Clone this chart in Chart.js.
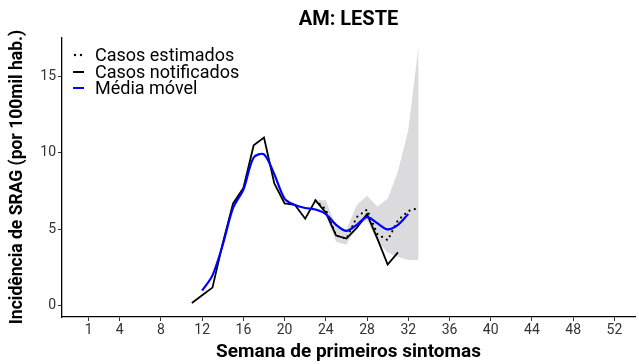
<!DOCTYPE html>
<html><head><meta charset="utf-8">
<script src="https://cdn.jsdelivr.net/npm/chart.js@4.4.1/dist/chart.umd.min.js"></script>
<style>html,body{margin:0;padding:0;background:#fff}#wrap{width:639px;height:364px}</style>
</head><body><div id="wrap"><canvas id="c" width="639" height="364"></canvas></div>
<script>
// ---- data ----
const chartTitle = "AM: LESTE";
const xTitle = "Semana de primeiros sintomas";
const yTitle = "Incidência de SRAG (por 100mil hab.)";
const xTicks = [1, 4, 8, 12, 16, 20, 24, 28, 32, 36, 40, 44, 48, 52];
const yTicks = [0, 5, 10, 15];

const weeksNotified = [11,12,13,14,15,16,17,18,19,20,21,22,23,24,25,26,27,28,29,30,31];
const notified      = [0.2,0.7,1.2,4.1,6.7,7.7,10.5,11.0,8.0,6.7,6.6,5.7,6.9,6.1,4.6,4.4,5.1,6.0,4.4,2.7,3.5];

const weeksMA   = [12,13,14,15,16,17,18,19,20,21,22,23,24,25,26,27,28,29,30,31,32];
const movingAvg = [1.0,2.0,4.0,6.4,7.6,9.7,9.9,8.6,7.0,6.6,6.4,6.3,6.0,5.3,4.9,5.3,5.8,5.4,5.0,5.3,6.0];

const weeksEst  = [23,24,25,26,27,28,29,30,31,32,33];
const estimated = [6.9,6.3,4.6,4.4,5.8,6.3,4.7,4.3,5.6,6.2,6.4];
const bandLower = [6.9,5.9,4.2,4.0,5.2,5.6,4.2,3.5,3.2,3.0,3.0];
const bandUpper = [6.9,6.9,5.2,5.0,6.6,7.2,6.5,7.0,8.8,11.5,17.0];

const labels = ["Casos estimados", "Casos notificados", "Média móvel"];

const pts = (xs, ys) => xs.map((x, i) => ({x: x, y: ys[i]}));
const FONT = "Roboto, 'Liberation Sans', sans-serif";

const decor = {
  id: 'decor',
  afterDraw(chart) {
    const ctx = chart.ctx, ca = chart.chartArea;
    ctx.save();
    ctx.fillStyle = '#000';
    ctx.textAlign = 'center'; ctx.textBaseline = 'middle';
    ctx.font = "bold 20px " + FONT;
    ctx.fillText(chartTitle, (ca.left + ca.right) / 2, 20);
    ctx.font = "bold 19px " + FONT;
    ctx.fillText(xTitle, (ca.left + ca.right) / 2, 352);
    ctx.save();
    ctx.translate(18, 177);
    ctx.rotate(-Math.PI / 2);
    ctx.font = "bold 17.5px " + FONT;
    ctx.fillText(yTitle, 0, 0);
    ctx.restore();
    // legend
    ctx.font = "18px " + FONT;
    ctx.textAlign = 'left';
    const ys = [55, 72, 88];
    ctx.fillStyle = '#000';
    [75, 81].forEach(x => { ctx.beginPath(); ctx.arc(x, ys[0], 1.2, 0, Math.PI * 2); ctx.fill(); });
    ctx.lineWidth = 2;
    ctx.strokeStyle = '#000';
    ctx.beginPath(); ctx.moveTo(73, ys[1]); ctx.lineTo(84, ys[1]); ctx.stroke();
    ctx.strokeStyle = '#0000ff';
    ctx.beginPath(); ctx.moveTo(73, ys[2]); ctx.lineTo(84, ys[2]); ctx.stroke();
    ctx.fillStyle = '#000';
    labels.forEach((t, i) => ctx.fillText(t, 95, ys[i] + 1));
    ctx.restore();
  }
};

new Chart(document.getElementById('c'), {
  type: 'line',
  data: {
    datasets: [
      { label: 'lower', data: pts(weeksEst, bandLower), borderWidth: 0, pointRadius: 0, fill: false, order: 5, borderColor: 'rgba(0,0,0,0)' },
      { label: 'upper', data: pts(weeksEst, bandUpper), borderWidth: 0, pointRadius: 0, fill: '-1', order: 4, borderColor: 'rgba(0,0,0,0)', backgroundColor: 'rgba(165,165,170,0.4)' },
      { label: labels[0], data: pts(weeksEst, estimated), borderColor: '#000', borderWidth: 2.2, borderDash: [0.01, 5.5], borderCapStyle: 'round', pointRadius: 0, fill: false, order: 2 },
      { label: labels[1], data: pts(weeksNotified, notified), borderColor: '#000', borderWidth: 1.8, pointRadius: 0, fill: false, order: 1 },
      { label: labels[2], data: pts(weeksMA, movingAvg), borderColor: '#0000ff', borderWidth: 2.2, pointRadius: 0, fill: false, order: 0, tension: 0.3 }
    ]
  },
  options: {
    responsive: false, animation: false,
    layout: { padding: { top: 38, right: 4, left: 0, bottom: 0 } },
    plugins: { legend: { display: false }, title: { display: false }, tooltip: { enabled: false } },
    elements: { line: { tension: 0 } },
    scales: {
      x: {
        type: 'linear', min: -1.6, max: 54,
        afterBuildTicks: s => { s.ticks = xTicks.map(v => ({ value: v })); },
        afterFit: s => { s.height = 47; },
        ticks: { autoSkip: false, maxRotation: 0, padding: 1, color: '#333', font: { size: 14, family: FONT } },
        grid: { drawOnChartArea: false, drawTicks: true, tickLength: 4, color: '#333' },
        border: { display: true, color: '#000', width: 1.3 }
      },
      y: {
        type: 'linear', min: -0.72, max: 17.5,
        afterBuildTicks: s => { s.ticks = yTicks.map(v => ({ value: v })); },
        afterFit: s => { s.width = 62; },
        ticks: { autoSkip: false, padding: 2, color: '#333', font: { size: 14, family: FONT } },
        grid: { drawOnChartArea: false, drawTicks: true, tickLength: 4, color: '#333' },
        border: { display: true, color: '#000', width: 1.3 }
      }
    }
  },
  plugins: [decor]
});
</script>
</body></html>
